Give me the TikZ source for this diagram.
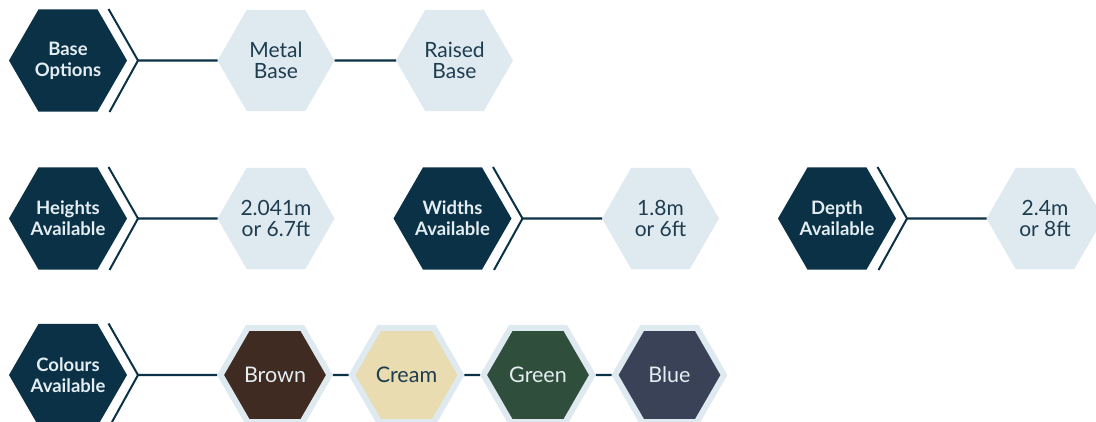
\documentclass[tikz,border=0pt]{standalone}
\usepackage{fontspec}
\setmainfont{Lato}
\usepackage{xcolor}
\usetikzlibrary{shapes.geometric,calc}

\definecolor{hexNavy}{HTML}{0A3145}
\definecolor{hexPale}{HTML}{DFE9F0}
\definecolor{hexInk}{HTML}{1E3D4F}
\definecolor{hexLabel}{HTML}{E3EDF2}
\definecolor{swBrown}{HTML}{3F2B22}
\definecolor{swCream}{HTML}{E8DCB0}
\definecolor{swGreen}{HTML}{304E3C}
\definecolor{swBlue}{HTML}{394257}

\begin{document}
\begin{tikzpicture}[x=1pt,y=1pt,yscale=-1,xscale=1,
  hexdark/.style={regular polygon,regular polygon sides=6,minimum size=118pt,inner sep=-12pt,outer sep=0pt,
    fill=hexNavy,text=hexLabel,align=center,font=\bfseries\fontsize{18.5}{21}\selectfont},
  hexlight/.style={regular polygon,regular polygon sides=6,minimum size=117pt,inner sep=-12pt,outer sep=0pt,
    fill=hexPale,text=hexInk,align=center,font=\fontsize{21}{21.5}\selectfont},
  hexcolour/.style={regular polygon,regular polygon sides=6,minimum size=109pt,inner sep=-12pt,
    draw=hexPale,line width=6pt,font=\fontsize{21.5}{24}\selectfont},
  chevron/.style={draw=hexNavy,line width=2pt},
  link/.style={draw=hexNavy,line width=2.2pt}]
\useasboundingbox (0,0) rectangle (1096,421);

%Row: base options
\node [hexdark] (base) at (68,60.5) {Base\\Options};
\node [hexlight] (metal) at (276,60.5) {Metal\\Base};
\node [hexlight] (raised) at (454.5,60.5) {Raised\\Base};

%Row: sizes
\node [hexdark] (heights) at (68,218.5) {Heights\\Available};
\node [hexlight] (hval) at (276,218.5) {2.041m\\or 6.7ft};
\node [hexdark] (widths) at (452.5,218.5) {Widths\\Available};
\node [hexlight] (wval) at (660.5,218.5) {1.8m\\or 6ft};
\node [hexdark] (depth) at (837,218.5) {Depth\\Available};
\node [hexlight] (dval) at (1045,218.5) {2.4m\\or 8ft};

%Row: colours
\node [hexdark] (colours) at (68,375) {Colours\\Available};
\node [hexcolour,fill=swBrown,text=hexLabel] (brown) at (275,375) {Brown};
\node [hexcolour,fill=swCream,text=hexInk] (cream) at (406.5,375) {Cream};
\node [hexcolour,fill=swGreen,text=hexLabel] (green) at (538,375) {Green};
\node [hexcolour,fill=swBlue,text=hexLabel] (blue) at (669.5,375) {Blue};

%Chevrons
\foreach \n in {base,heights,widths,depth,colours}
  \draw [chevron] ($(\n.east)+(-18.5,-51.5)$) -- ($(\n.east)+(11,0)$) coordinate (\n-tip) -- ($(\n.east)+(-17.5,51.5)$);

%Straight Lines
\draw [link] (base-tip) -- (metal);
\draw [link] (metal) -- (raised);
\draw [link] (heights-tip) -- (hval);
\draw [link] (widths-tip) -- (wval);
\draw [link] (depth-tip) -- (dval);
\draw [link] (colours-tip) -- (brown);
\draw [link] (brown) -- (cream);
\draw [link] (cream) -- (green);
\draw [link] (green) -- (blue);

\end{tikzpicture}
\end{document}
